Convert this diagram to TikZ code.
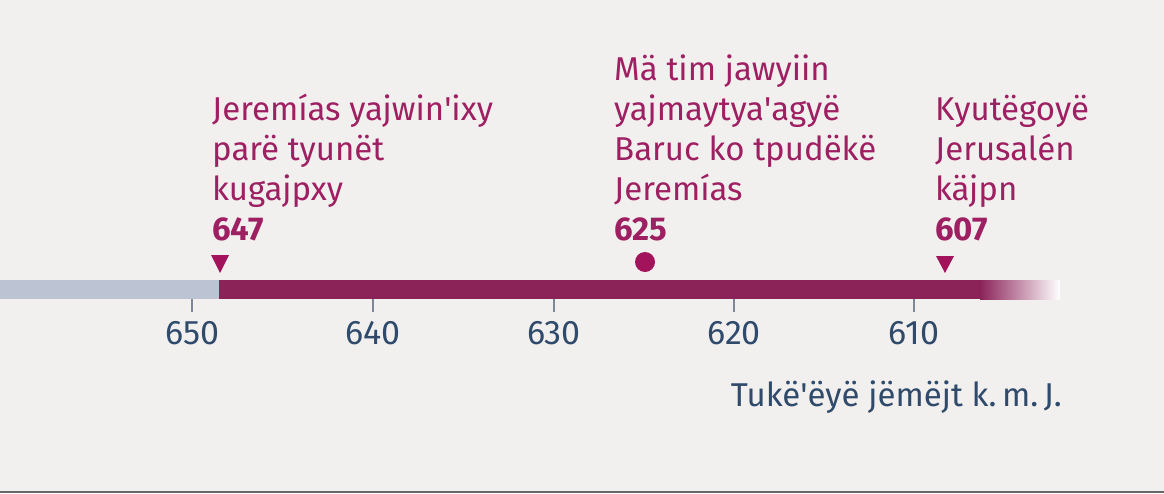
\documentclass[tikz,border=0pt]{standalone}
\usepackage{fontspec}
\setmainfont{Fira Sans}
\definecolor{bg}{HTML}{F1F0EE}
\definecolor{barred}{HTML}{8B2359}
\definecolor{txtred}{HTML}{9E1F62}
\definecolor{markred}{HTML}{A3135C}
\definecolor{axisblue}{HTML}{2F4A6B}
\definecolor{greybar}{HTML}{BCC4D3}
\definecolor{tickgrey}{HTML}{7E8796}
\newcommand{\ap}{\textquotesingle}
\begin{document}
\begin{tikzpicture}[x=1pt,y=-1pt,
  lbl/.style={anchor=base west, inner sep=0pt, align=left, text=txtred,
    font=\fontsize{33}{40}\selectfont},
  yr/.style={anchor=base west, inner sep=0pt, text=txtred,
    font=\fontsize{33}{40}\selectfont\bfseries},
  ticklbl/.style={anchor=base, inner sep=0pt, text=axisblue,
    font=\fontsize{34}{40}\selectfont},
  tri/.style={fill=markred, draw=none},
  tickline/.style={draw=tickgrey, line width=2pt}]
\fill[bg] (0,0) rectangle (1164,493);
\useasboundingbox (0,0) rectangle (1164,493);
\draw[line width=2pt, draw=black!60] (0,492) -- (1164,492);
% bar
\fill[greybar] (0,280) rectangle (219,299);
\fill[barred] (219,280) rectangle (981,299);
\shade[left color=barred, right color=white] (980,280) rectangle (1060,299);
% ticks
\foreach \x/\t in {192/650,373/640,554/630,734/620,914/610}{
  \draw[tickline] (\x,299) -- (\x,312);
  \node[ticklbl] (t\t) at (\x,344) {\t};
}
% markers
\fill[tri] (211,255) -- (229,255) -- (220,273) -- cycle;
\fill[tri] (936,256) -- (954,256) -- (945,273) -- cycle;
\fill[markred] (645,262) circle (10);
% labels
\node[lbl] (l1) at (212,200) {Jeremías yajwin\ap ixy\\parë tyunët\\kugajpxy};
\node[yr] (y1) at (212,240) {647};
\node[lbl] (l2) at (614,200) {Mä tim jawyiin\\yajmaytya\ap agyë\\Baruc ko tpudëkë\\Jeremías};
\node[yr] (y2) at (614,240) {625};
\node[lbl] (l3) at (935,200) {Kyutëgoyë\\Jerusalén\\käjpn};
\node[yr] (y3) at (935,240) {607};
\node[anchor=base east, inner sep=0pt, text=axisblue, font=\fontsize{33}{40}\selectfont] (unit) at (1062,406) {Tukë\ap ëyë jëmëjt k.\,m.\,J.};
\end{tikzpicture}
\end{document}
